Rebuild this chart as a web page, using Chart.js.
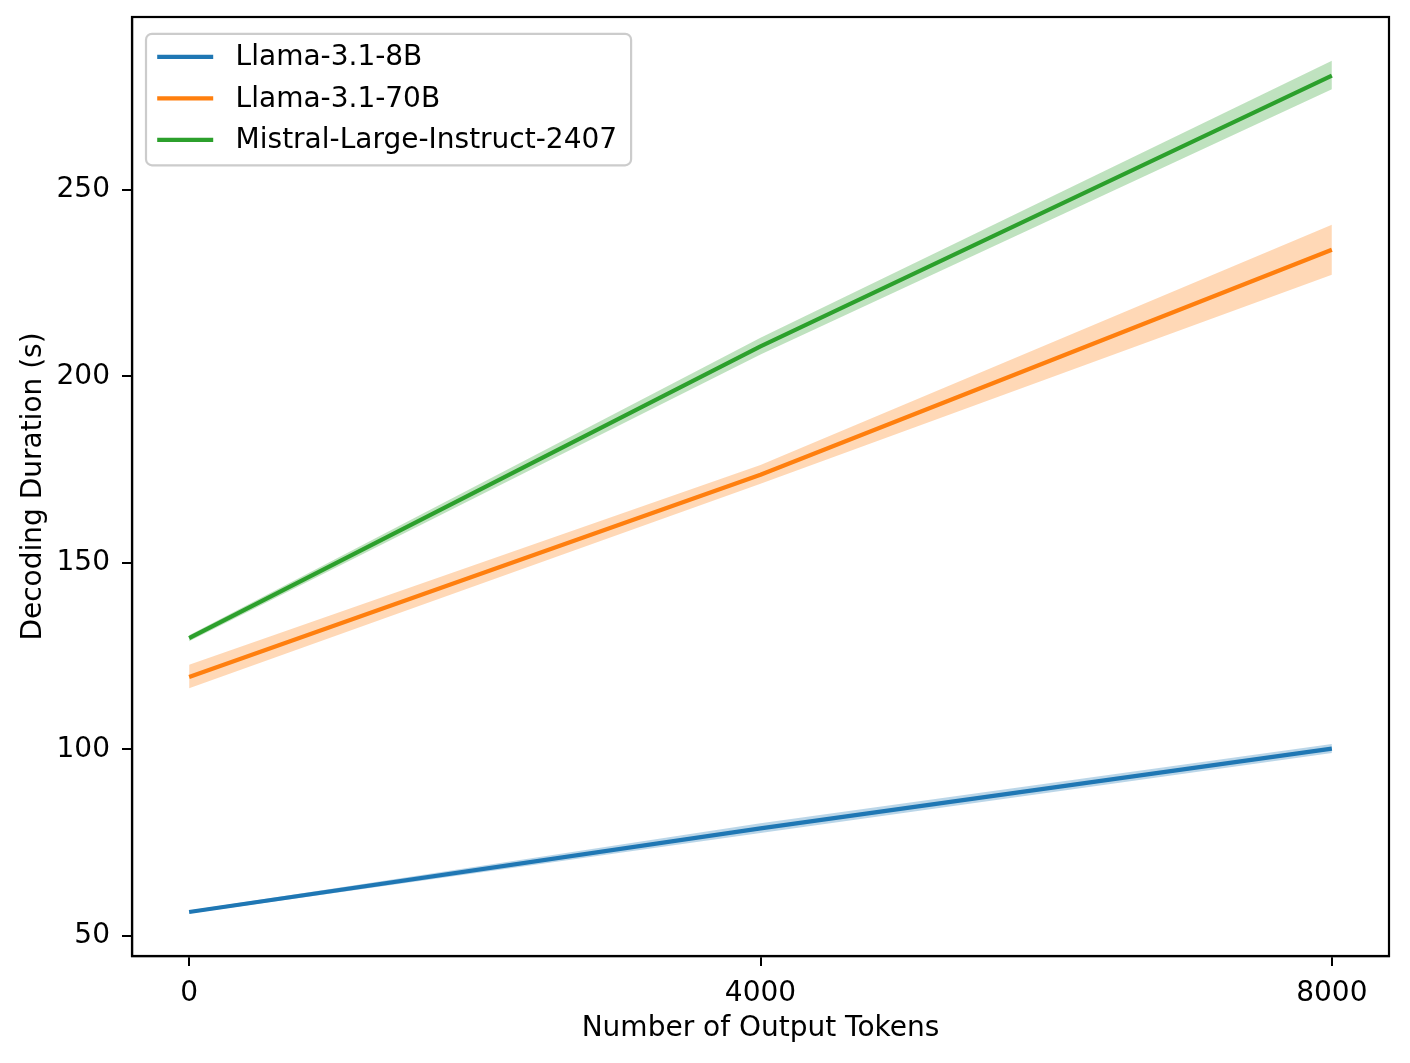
<!DOCTYPE html>
<html>
<head>
<meta charset="utf-8">
<script src="https://cdn.jsdelivr.net/npm/chart.js@4"></script>
<style>
  html, body { margin: 0; padding: 0; background: #fff; }
  #wrap { width: 1410px; height: 1063px; }
</style>
</head>
<body>
<div id="wrap"><canvas id="c" width="1410" height="1063"></canvas></div>
<script>
// ---- data ----
const tokens = [0, 4000, 8000];
const xTicks = [0, 4000, 8000];
const yTicks = [50, 100, 150, 200, 250];
const seriesNames = ['Llama-3.1-8B', 'Llama-3.1-70B', 'Mistral-Large-Instruct-2407'];
const llama8B      = [56.4, 78.8, 100.2];
const llama8BLow   = [56.0, 77.6, 99.0];
const llama8BHigh  = [56.8, 80.2, 101.4];
const llama70B     = [119.4, 173.6, 233.9];
const llama70BLow  = [116.4, 171.2, 227.2];
const llama70BHigh = [122.7, 176.2, 240.6];
const mistral      = [129.8, 208.0, 280.6];
const mistralLow   = [129.0, 205.8, 276.9];
const mistralHigh  = [130.6, 210.3, 284.6];

// ---- styles ----
const F = 28;
const FONT = 'DejaVu Sans';
const colors = ['#1f77b4', '#ff7f0e', '#2ca02c'];
const bandColors = ['rgba(31,119,180,0.3)', 'rgba(255,127,14,0.3)', 'rgba(44,160,44,0.3)'];
const mids = [llama8B, llama70B, mistral];
const lows = [llama8BLow, llama70BLow, mistralLow];
const highs = [llama8BHigh, llama70BHigh, mistralHigh];

const pts = arr => arr.map((v, i) => ({x: tokens[i], y: v}));

const datasets = [];
mids.forEach((m, i) => {
  datasets.push({
    label: seriesNames[i], data: pts(m), borderColor: colors[i], borderWidth: 4.2,
    pointRadius: 0, fill: false, tension: 0, order: 0, isLine: true,
    borderCapStyle: 'butt', borderJoinStyle: 'round'
  });
});
mids.forEach((m, i) => {
  datasets.push({
    label: seriesNames[i] + ' hi', data: pts(highs[i]), borderWidth: 0, borderColor: 'rgba(0,0,0,0)',
    pointRadius: 0, tension: 0, order: 1, fill: '+1', backgroundColor: bandColors[i]
  });
  datasets.push({
    label: seriesNames[i] + ' lo', data: pts(lows[i]), borderWidth: 0, borderColor: 'rgba(0,0,0,0)',
    pointRadius: 0, tension: 0, order: 1, fill: false
  });
});

const framePlugin = {
  id: 'frame',
  afterDraw(chart) {
    const ctx = chart.ctx, a = chart.chartArea;
    ctx.save();
    ctx.strokeStyle = '#000';
    ctx.lineWidth = 2.2;
    ctx.strokeRect(a.left, a.top, a.right - a.left, a.bottom - a.top);
    // legend
    const lines = chart.data.datasets.filter(d => d.isLine);
    ctx.font = `${F}px "${FONT}"`;
    let maxW = 0;
    lines.forEach(d => { maxW = Math.max(maxW, ctx.measureText(d.label).width); });
    const x0 = a.left + 0.5 * F, y0 = a.top + 0.6 * F;
    const handleL = 2.0 * F, pad = 0.4 * F, textPad = 0.8 * F;
    const rowH = 41.5;
    const w = pad * 2 + handleL + textPad + maxW + 0.1 * F;
    const h = rowH * lines.length + 0.25 * F;
    ctx.beginPath();
    ctx.roundRect(x0, y0, w, h, 6);
    ctx.fillStyle = 'rgba(255,255,255,0.8)';
    ctx.fill();
    ctx.strokeStyle = '#cccccc';
    ctx.lineWidth = 2.2;
    ctx.stroke();
    lines.forEach((d, i) => {
      const cy = y0 + 23 + i * rowH;
      ctx.beginPath();
      ctx.strokeStyle = d.borderColor;
      ctx.lineWidth = 4.2;
      ctx.moveTo(x0 + pad, cy);
      ctx.lineTo(x0 + pad + handleL, cy);
      ctx.stroke();
      ctx.fillStyle = '#000';
      ctx.textBaseline = 'middle';
      ctx.textAlign = 'left';
      ctx.fillText(d.label, x0 + pad + handleL + textPad, cy + 1);
    });
    ctx.restore();
  }
};

new Chart(document.getElementById('c'), {
  type: 'line',
  data: { datasets },
  options: {
    responsive: false,
    devicePixelRatio: 1,
    animation: false,
    events: [],
    layout: { autoPadding: false, padding: { left: 0, top: 17, right: 21, bottom: 0 } },
    plugins: { legend: { display: false }, tooltip: { enabled: false } },
    scales: {
      x: {
        type: 'linear', min: -400, max: 8400,
        afterBuildTicks: s => { s.ticks = xTicks.map(v => ({value: v})); },
        afterFit: s => { s.height = 107; s.paddingLeft = 0; s.paddingRight = 0; },
        grid: { display: true, drawOnChartArea: false, drawTicks: true, tickLength: 10, color: '#000', lineWidth: 2 },
        border: { display: true, color: '#000', width: 2.2 },
        ticks: { color: '#000', font: { family: FONT, size: F }, padding: 11, maxRotation: 0, autoSkip: false,
                 callback: v => String(v) },
        title: { display: true, text: 'Number of Output Tokens', color: '#000', font: { family: FONT, size: F }, padding: { top: 4, bottom: 17 } }
      },
      y: {
        type: 'linear', min: 44.6, max: 296.3,
        afterBuildTicks: s => { s.ticks = yTicks.map(v => ({value: v})); },
        afterFit: s => { s.width = 132; s.paddingTop = 0; s.paddingBottom = 0; },
        grid: { display: true, drawOnChartArea: false, drawTicks: true, tickLength: 10, color: '#000', lineWidth: 2 },
        border: { display: true, color: '#000', width: 2.2 },
        ticks: { color: '#000', font: { family: FONT, size: F }, padding: 12, autoSkip: false,
                 callback: v => String(v) },
        title: { display: true, text: 'Decoding Duration (s)', color: '#000', font: { family: FONT, size: F }, padding: { top: 17, bottom: 6 } }
      }
    }
  },
  plugins: [framePlugin]
});
</script>
</body>
</html>
